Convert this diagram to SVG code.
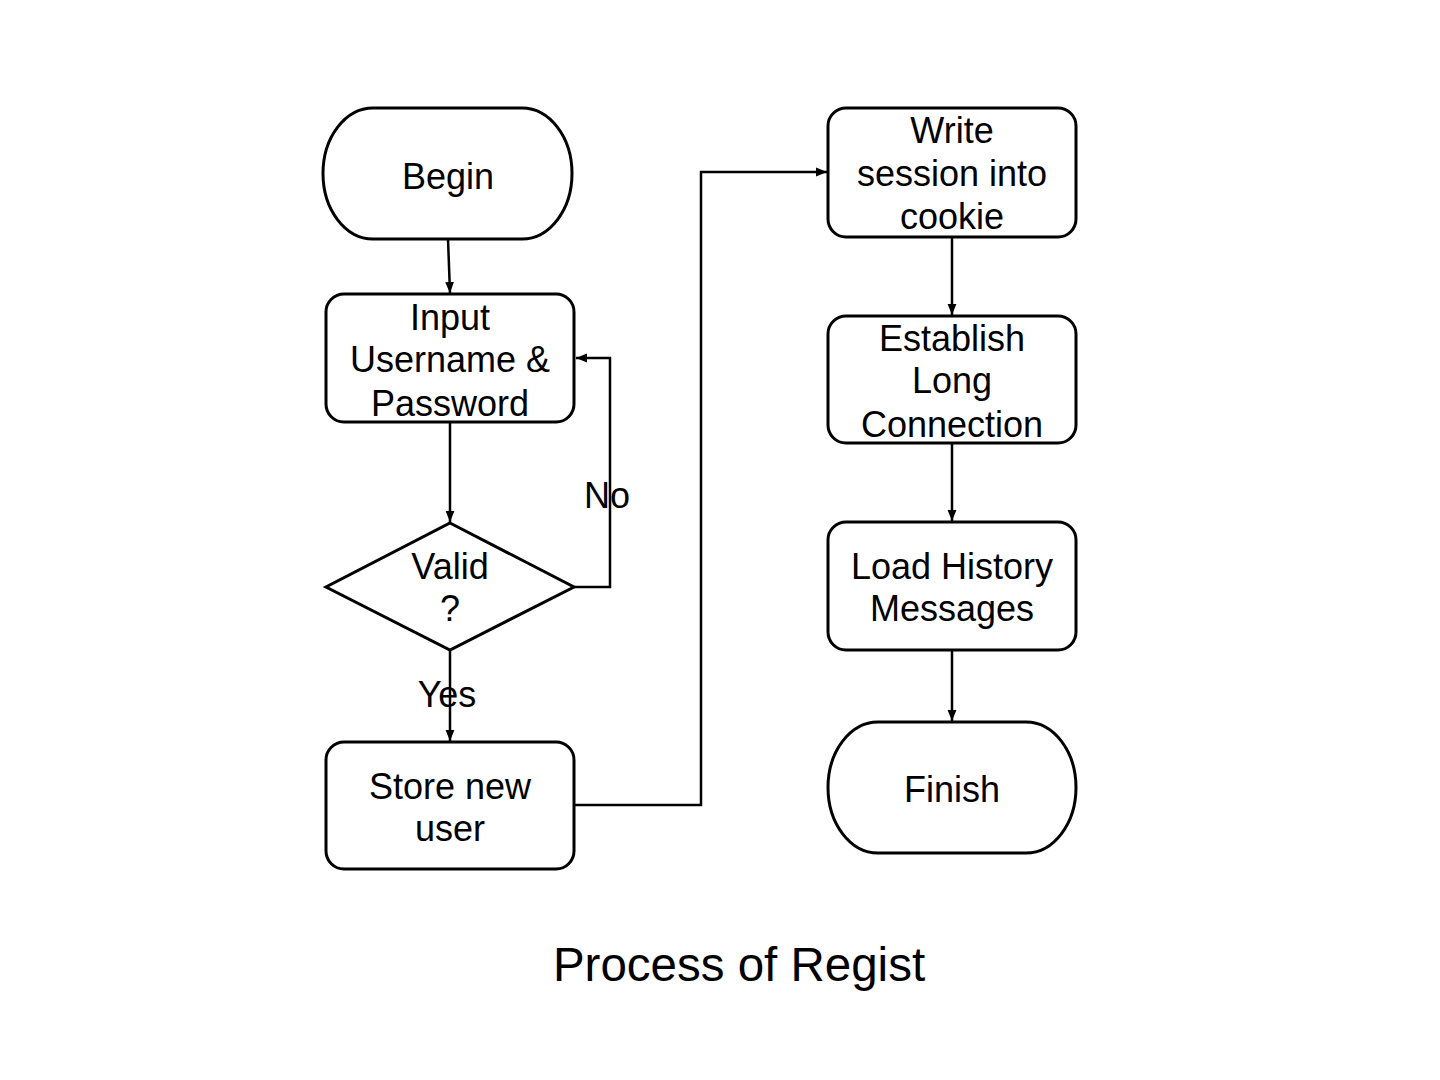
<svg xmlns="http://www.w3.org/2000/svg" width="1440" height="1080" viewBox="0 0 1440 1080">
<style>
.shape{fill:#fff;stroke:#000;stroke-width:3}
.t{font-family:"Liberation Sans",Arial,sans-serif;font-size:36px;fill:#000;text-anchor:middle}
.c{fill:none;stroke:#000;stroke-width:2.5}
</style>
<defs>
<marker id="ah" viewBox="0 0 10 10" refX="10" refY="5" markerWidth="11" markerHeight="11" markerUnits="userSpaceOnUse" orient="auto">
<path d="M0,1 L10,5 L0,9 Z" fill="#000"/>
</marker>
</defs>
<rect width="1440" height="1080" fill="#fff"/>
<g id="connectors">
<path class="c" d="M448,239 L450,293" marker-end="url(#ah)"/>
<path class="c" d="M450,422 L450,522" marker-end="url(#ah)"/>
<path class="c" d="M574,587 H610 V358 H576" marker-end="url(#ah)"/>
<path class="c" d="M450,650 L450,741" marker-end="url(#ah)"/>
<path class="c" d="M574,805 H701 V172 H827" marker-end="url(#ah)"/>
<path class="c" d="M952,237 L952,315" marker-end="url(#ah)"/>
<path class="c" d="M952,443 L952,521" marker-end="url(#ah)"/>
<path class="c" d="M952,650 L952,721" marker-end="url(#ah)"/>
</g>
<g id="begin">
<path class="shape" d="M373,108 H522 A50,65.5 0 0 1 522,239 H373 A50,65.5 0 0 1 373,108 Z"/>
<text class="t" x="448" y="189">Begin</text>
</g>
<g id="input">
<rect class="shape" x="326" y="294" width="248" height="128" rx="18"/>
<text class="t" x="450" y="330">Input</text>
<text class="t" x="450" y="372">Username &amp;</text>
<text class="t" x="450" y="416">Password</text>
</g>
<g id="valid">
<path class="shape" d="M450,523 L574,587 L450,650 L326,587 Z"/>
<text class="t" x="450" y="579">Valid</text>
<text class="t" x="450" y="621">?</text>
</g>
<g id="store">
<rect class="shape" x="326" y="742" width="248" height="127" rx="18"/>
<text class="t" x="450" y="799">Store new</text>
<text class="t" x="450" y="841">user</text>
</g>
<g id="write">
<rect class="shape" x="828" y="108" width="248" height="129" rx="18"/>
<text class="t" x="952" y="143">Write</text>
<text class="t" x="952" y="186">session into</text>
<text class="t" x="952" y="229">cookie</text>
</g>
<g id="establish">
<rect class="shape" x="828" y="316" width="248" height="127" rx="18"/>
<text class="t" x="952" y="351">Establish</text>
<text class="t" x="952" y="393">Long</text>
<text class="t" x="952" y="437">Connection</text>
</g>
<g id="load">
<rect class="shape" x="828" y="522" width="248" height="128" rx="18"/>
<text class="t" x="952" y="579">Load History</text>
<text class="t" x="952" y="621">Messages</text>
</g>
<g id="finish">
<path class="shape" d="M878,722 H1026 A50,65.5 0 0 1 1026,853 H878 A50,65.5 0 0 1 878,722 Z"/>
<text class="t" x="952" y="802">Finish</text>
</g>
<g id="labels">
<text class="t" x="607" y="508">No</text>
<text class="t" x="447" y="707">Yes</text>
<text class="t" x="739" y="981" style="font-size:47.5px">Process of Regist</text>
</g>
</svg>
